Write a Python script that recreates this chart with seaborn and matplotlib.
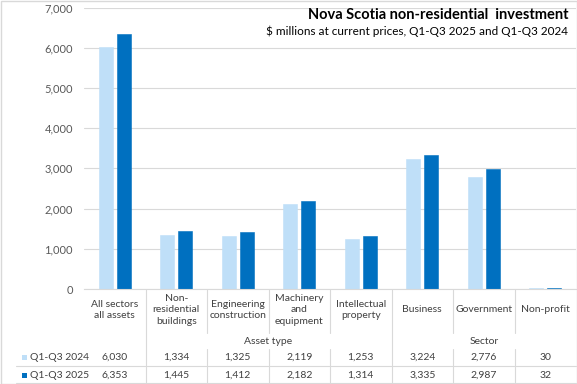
import matplotlib
matplotlib.use("Agg")
import matplotlib.pyplot as plt
import matplotlib.transforms as mtransforms
from matplotlib.lines import Line2D
from matplotlib.patches import Rectangle
import seaborn as sns
import pandas as pd

# ---- data ----
categories = ["All sectors\nall assets", "Non-\nresidential\nbuildings", "Engineering\nconstruction",
              "Machinery\nand\nequipment", "Intellectual\nproperty", "Business", "Government", "Non-profit"]
series_labels = ["Q1-Q3 2024", "Q1-Q3 2025"]
values_2024 = [6030, 1334, 1325, 2119, 1253, 3224, 2776, 30]
values_2025 = [6353, 1445, 1412, 2182, 1314, 3335, 2987, 32]
group_labels = ["Asset type", "Sector"]
group_centers = [2.5, 6.0]
y_ticks = [0, 1000, 2000, 3000, 4000, 5000, 6000, 7000]
title = "Nova Scotia non-residential  investment"
subtitle = "\\$ millions at current prices, Q1-Q3 2025 and Q1-Q3 2024"

colors = ["#BFDFF8", "#0070C0"]
grid_c = "#D9D9D9"
text_c = "#404040"

df = pd.DataFrame({
    "category": categories * 2,
    "value": values_2024 + values_2025,
    "series": [series_labels[0]] * len(categories) + [series_labels[1]] * len(categories),
})

sns.set_theme(style="white")
plt.rcParams["font.family"] = ["Lato", "DejaVu Sans"]

W, H = 577, 384
fig = plt.figure(figsize=(W / 100, H / 100), dpi=100)
ax = fig.add_axes([84 / W, 1 - 289 / H, 492 / W, (289 - 7.5) / H])

sns.barplot(data=df, x="category", y="value", hue="series", order=categories,
            hue_order=series_labels, palette=colors, width=0.585, gap=0.21,
            ax=ax, legend=False, saturation=1)
for p in ax.patches:
    p.set_edgecolor(p.get_facecolor())
    p.set_linewidth(0.4)

ax.set_xlim(-0.5, len(categories) - 0.5)
ax.set_ylim(0, 7000)
ax.set_yticks(y_ticks)
ax.set_yticklabels([f"{v:,}" for v in y_ticks], fontsize=8, color="#595959")
ax.tick_params(axis="y", length=0, pad=8)
ax.set_xticks([])
ax.set_xlabel("")
ax.set_ylabel("")
ax.grid(axis="y", color=grid_c, linewidth=0.8)
ax.set_axisbelow(True)
for s in ["left", "top", "right"]:
    ax.spines[s].set_visible(False)
ax.spines["bottom"].set_color(grid_c)
ax.spines["bottom"].set_linewidth(0.8)

# title
fig.text(568 / W, 1 - 15 / H, title, ha="right", va="center", fontsize=10.5,
         fontweight="bold", color="#000000")
fig.text(568 / W, 1 - 31 / H, subtitle, ha="right", va="center", fontsize=8.5,
         color="#000000")

# ---- data table ----
bt = mtransforms.blended_transform_factory(ax.transData, fig.transFigure)

def fy(px):
    return 1 - px / H

fs = 7.5
n = len(categories)
for i, lab in enumerate(categories):
    fig.text(i, fy(310), lab, transform=bt, ha="center", va="center", fontsize=fs,
             color=text_c, linespacing=1.3)
    fig.text(i, fy(357), f"{values_2024[i]:,}", transform=bt, ha="center", va="center",
             fontsize=fs, color=text_c)
    fig.text(i, fy(375), f"{values_2025[i]:,}", transform=bt, ha="center", va="center",
             fontsize=fs, color=text_c)

for g, c in zip(group_labels, group_centers):
    fig.text(c, fy(341), g, transform=bt, ha="center", va="center", fontsize=fs, color=text_c)

# vertical separators
for i in range(n - 1):
    b = i + 0.5
    if i in (0, 4):
        segs = [(289, 383)]
    else:
        segs = [(289, 333), (349, 383)]
    for y0, y1 in segs:
        fig.add_artist(Line2D([b, b], [fy(y0), fy(y1)], transform=bt, color=grid_c,
                              linewidth=0.8, clip_on=False))

# horizontal separators
for ypx in (366, 382.5):
    fig.add_artist(Line2D([16 / W, 576 / W], [fy(ypx), fy(ypx)], transform=fig.transFigure,
                          color=grid_c, linewidth=0.8))

# legend keys in table
for ypx, col, lab in zip((357, 375), colors, series_labels):
    fig.add_artist(Rectangle((21.5 / W, fy(ypx + 2.5)), 5 / W, 5 / H, transform=fig.transFigure,
                             facecolor=col, edgecolor="none"))
    fig.text(29.5 / W, fy(ypx), lab, ha="left", va="center", fontsize=fs, color=text_c)

# chart frame
fig.add_artist(Rectangle((0.5 / W, 0.5 / H), (W - 1) / W, (H - 1) / H, transform=fig.transFigure,
                         fill=False, edgecolor=grid_c, linewidth=1))

fig.savefig("out.png", dpi=100)
